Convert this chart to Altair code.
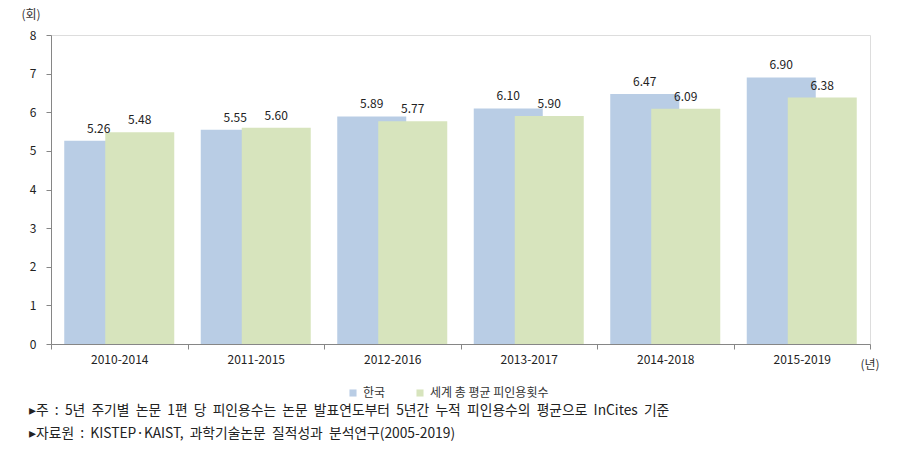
import altair as alt
import pandas as pd

categories = ["2010-2014", "2011-2015", "2012-2016", "2013-2017", "2014-2018", "2015-2019"]
korea = [5.26, 5.55, 5.89, 6.10, 6.47, 6.90]
world = [5.48, 5.60, 5.77, 5.90, 6.09, 6.38]
series_names = ["한국", "세계 총 평균 피인용횟수"]
colors = ["#B9CDE5", "#D7E4BD"]
y_ticks = [0, 1, 2, 3, 4, 5, 6, 7, 8]
y_unit = ["(회)"]
x_unit = ["(년)"]
notes = [
    "▸주 : 5년 주기별 논문 1편 당 피인용수는 논문 발표연도부터 5년간 누적 피인용수의 평균으로 InCites 기준",
    "▸자료원 : KISTEP·KAIST, 과학기술논문 질적성과 분석연구(2005-2019)",
]
notes = [n.replace(" ", "\u00a0\u00a0") for n in notes]

rows = []
for c, k, w in zip(categories, korea, world):
    rows.append({"cat": c, "series": series_names[0], "value": k})
    rows.append({"cat": c, "series": series_names[1], "value": w})
df = pd.DataFrame(rows)

FONT = "Noto Sans CJK KR"
OFF = 20.5
BW = 69

x_enc = alt.X("cat:N", sort=categories, title=None,
              scale=alt.Scale(paddingInner=0, paddingOuter=0),
              axis=alt.Axis(labelAngle=0, tickBand="extent", domainColor="#868686",
                            tickColor="#868686", tickSize=5, labelFontSize=12,
                            labelFont=FONT, labelColor="#222222", labelPadding=5))
y_enc = alt.Y("value:Q", title=None,
              scale=alt.Scale(domain=[0, 8], nice=False),
              axis=alt.Axis(values=y_ticks, grid=False, domainColor="#868686",
                            tickColor="#868686", tickSize=5, labelFontSize=12,
                            labelOverlap=False,
                            labelFont=FONT, labelColor="#222222", labelPadding=10))
color_enc = alt.Color("series:N",
                      scale=alt.Scale(domain=series_names, range=colors),
                      legend=alt.Legend(orient="none", legendX=296, legendY=352,
                                        direction="horizontal", title=None,
                                        symbolType="square", symbolSize=50,
                                        symbolStrokeWidth=0, labelFontSize=12,
                                        labelFont=FONT, labelColor="#333333",
                                        columnPadding=28, labelOffset=4))

base = alt.Chart(df)
bars_k = base.transform_filter(alt.datum.series == series_names[0]).mark_bar(
    width=BW, xOffset=-OFF).encode(x=x_enc, y=y_enc, color=color_enc)
bars_w = base.transform_filter(alt.datum.series == series_names[1]).mark_bar(
    width=BW, xOffset=OFF).encode(x=x_enc, y=y_enc, color=color_enc)
txt_k = base.transform_filter(alt.datum.series == series_names[0]).mark_text(
    xOffset=-OFF, dy=-5, baseline="bottom", fontSize=12, font=FONT, color="#222222").encode(
    x=x_enc, y=y_enc, text=alt.Text("value:Q", format=".2f"))
txt_w = base.transform_filter(alt.datum.series == series_names[1]).mark_text(
    xOffset=OFF, dy=-5, baseline="bottom", fontSize=12, font=FONT, color="#222222").encode(
    x=x_enc, y=y_enc, text=alt.Text("value:Q", format=".2f"))

yunit = alt.Chart(pd.DataFrame({"t": y_unit})).mark_text(
    fontSize=12, font=FONT, color="#333333").encode(
    text="t:N", x=alt.value(-20), y=alt.value(-20))
xunit = alt.Chart(pd.DataFrame({"t": x_unit})).mark_text(
    fontSize=12, font=FONT, color="#333333").encode(
    text="t:N", x=alt.value(819), y=alt.value(330))
note1 = alt.Chart(pd.DataFrame({"t": [notes[0]]})).mark_text(
    fontSize=13.8, font=FONT, color="#222222", align="left").encode(
    text="t:N", x=alt.value(-22), y=alt.value(376))
note2 = alt.Chart(pd.DataFrame({"t": [notes[1]]})).mark_text(
    fontSize=13.8, font=FONT, color="#222222", align="left").encode(
    text="t:N", x=alt.value(-22), y=alt.value(399))

chart = alt.layer(bars_k, bars_w, txt_k, txt_w, yunit, xunit, note1, note2).properties(
    width=819, height=309,
    padding={"left": 51, "top": 35, "right": 28, "bottom": 120},
    autosize=alt.AutoSizeParams(type="none"),
).configure_view(stroke=None).configure(background="white")

chart.save("out.html", embed_options={"renderer": "svg", "actions": False})
